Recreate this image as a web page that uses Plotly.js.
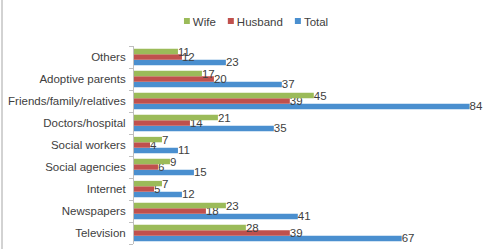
<!DOCTYPE html>
<html>
<head>
<meta charset="utf-8">
<script src="https://cdn.plot.ly/plotly-3.0.1.min.js"></script>
<style>html,body{margin:0;padding:0;background:#fff;}#chart{width:488px;height:249px;}</style>
</head>
<body>
<div id="chart"></div>
<script>
var categories = ["Television", "Newspapers", "Internet", "Social agencies", "Social workers", "Doctors/hospital", "Friends/family/relatives", "Adoptive parents", "Others"];
var wife = [28, 23, 7, 9, 7, 21, 45, 17, 11];
var husband = [39, 18, 5, 6, 4, 14, 39, 20, 12];
var total = [67, 41, 12, 15, 11, 35, 84, 37, 23];
var seriesNames = ["Wife", "Husband", "Total"];
var colors = ["#9BBB59", "#C0504D", "#4A8FCF"];

function mk(name, vals, color) {
  return {
    type: "bar", orientation: "h", name: name, y: categories, x: vals,
    marker: {color: color}, text: vals.map(String), textposition: "outside",
    constraintext: "none", cliponaxis: false,
    textfont: {family: "Liberation Sans, Arial, sans-serif", size: 11.5, color: "#404040"},
    hoverinfo: "x+name"
  };
}
var data = [mk(seriesNames[2], total, colors[2]), mk(seriesNames[1], husband, colors[1]), mk(seriesNames[0], wife, colors[0])];

var layout = {
  width: 488, height: 249,
  margin: {l: 134, r: 12, t: 46, b: 5},
  paper_bgcolor: "#fff", plot_bgcolor: "#fff",
  font: {family: "Liberation Sans, Arial, sans-serif", size: 11.5, color: "#404040"},
  barmode: "group", bargap: 0.26, bargroupgap: 0,
  showlegend: true,
  legend: {orientation: "h", traceorder: "reversed", x: 0.5, xanchor: "center", y: 1 - 21/249, yanchor: "middle", yref: "container", itemwidth: 30, font: {size: 11.5, color: "#404040"}},
  xaxis: {range: [0, 85.6], visible: false, showgrid: false, zeroline: false},
  yaxis: {type: "category", showline: true, linecolor: "#BFBFBF", linewidth: 1, ticks: "outside", tickson: "boundaries", ticklen: 4, tickcolor: "#BFBFBF", showgrid: false, ticklabelstandoff: 5, automargin: false},
  shapes: [{type: "line", xref: "paper", yref: "paper", x0: -132/342, x1: -132/342, y0: -0.1, y1: 1.3, line: {color: "#A6A6A6", width: 1}}]
};
Plotly.newPlot("chart", data, layout, {displayModeBar: false, staticPlot: true}).then(function(gd){
  // compact legend: small squares right before each label, like the reference
  var items = gd.querySelectorAll(".legend .traces");
  var cum = 0, gap = 12, sq = 6, sqGap = 3;
  var ty = null;
  items.forEach(function(g){
    var path = g.querySelector(".legendpoints path");
    if (path) { path.setAttribute("d", "M0,-3h" + sq + "v" + sq + "h-" + sq + "Z"); path.setAttribute("transform", "translate(0,0)"); }
    var t = g.querySelector("text.legendtext");
    t.setAttribute("x", sq + sqGap);
    var w = t.getComputedTextLength();
    var tr = g.getAttribute("transform") || "";
    var m = /translate\(\s*([-\d.]+)[ ,]+([-\d.]+)/.exec(tr);
    var y = m ? parseFloat(m[2]) : 0;
    g.setAttribute("transform", "translate(" + cum + "," + y + ")");
    var bg = g.querySelector("rect.legendtoggle");
    if (bg) bg.setAttribute("width", sq + sqGap + w);
    cum += sq + sqGap + w + gap;
  });
  var totalW = cum - gap;
  var leg = gd.querySelector(".legend");
  var lt = /translate\(\s*([-\d.]+)[ ,]+([-\d.]+)/.exec(leg.getAttribute("transform"));
  var centerX = 256;
  var box = leg.querySelector(".groups").getBoundingClientRect();
  var shift = centerX - (box.left + box.width / 2);
  leg.setAttribute("transform", "translate(" + (parseFloat(lt[1]) + shift) + "," + lt[2] + ")");
  var bgr = leg.querySelector("rect.bg"); if (bgr) bgr.setAttribute("width", 0);
});
</script>
</body>
</html>
